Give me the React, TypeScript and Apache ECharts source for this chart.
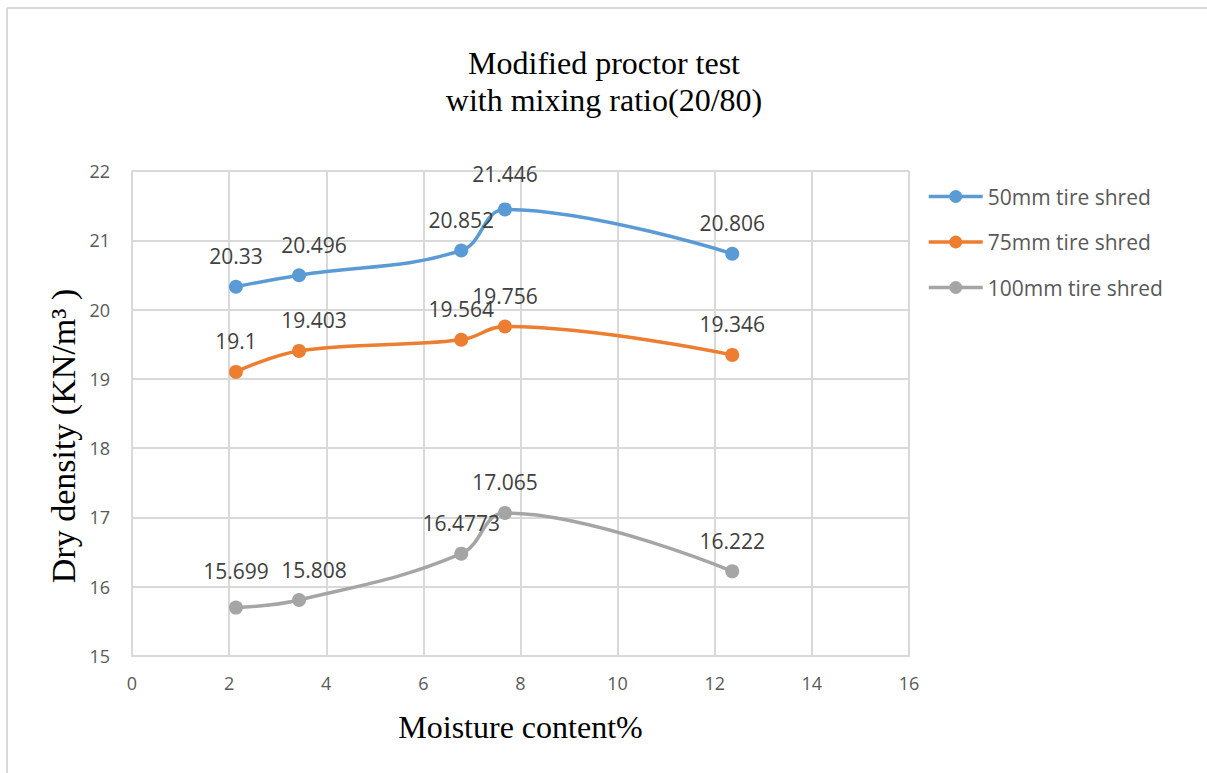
import React, { useEffect, useRef } from "react";
import * as echarts from "echarts";

const moisture50 = [2.14, 3.44, 6.78, 7.68, 12.36];
const density50 = [20.33, 20.496, 20.852, 21.446, 20.806];
const moisture75 = [2.14, 3.44, 6.78, 7.68, 12.36];
const density75 = [19.1, 19.403, 19.564, 19.756, 19.346];
const moisture100 = [2.14, 3.44, 6.78, 7.68, 12.36];
const density100 = [15.699, 15.808, 16.4773, 17.065, 16.222];
const seriesNames = ["50mm tire shred", "75mm tire shred", "100mm tire shred"];
const seriesColors = ["#5B9BD5", "#ED7D31", "#A5A5A5"];
const titleLines = ["Modified proctor test", "with mixing ratio(20/80)"];
const xAxisTitle = "Moisture content%";
const yAxisTitle = "Dry density (KN/m³ )";

const W = 1207;
const H = 773;

function pairs(xs: number[], ys: number[]) {
  return xs.map((x, i) => [x, ys[i]]);
}

export default function App() {
  const ref = useRef<HTMLDivElement>(null);
  useEffect(() => {
    if (!ref.current) return;
    const chart = echarts.init(ref.current, undefined, { renderer: "svg" });
    const serif = "'Liberation Serif', 'Times New Roman', serif";
    const sans = "'Open Sans', 'Noto Sans', sans-serif";
    const datasets = [
      pairs(moisture50, density50),
      pairs(moisture75, density75),
      pairs(moisture100, density100),
    ];
    // label nudges (styling only) to mimic the reference's label placement
    const nudge = (si: number, di: number): number[] => {
      if (di === 1) return [15, 0];
      if (si === 0 && di === 3) return [0, -5];
      if (si === 2 && di === 0) return [0, -6];
      return [0, 0];
    };
    chart.setOption({
      animation: false,
      backgroundColor: "#ffffff",
      title: {
        text: titleLines.join("\n"),
        left: 604,
        top: 44,
        padding: 0,
        textAlign: "center",
        textStyle: {
          fontFamily: serif,
          fontSize: 32,
          fontWeight: "normal",
          color: "#000000",
          lineHeight: 37,
        },
      },
      legend: {
        orient: "vertical",
        left: 927,
        top: 186,
        padding: 0,
        itemWidth: 54,
        itemHeight: 16,
        itemGap: 24.5,
        data: seriesNames,
        lineStyle: { width: 3.5 },
        textStyle: { fontFamily: sans, fontSize: 21, color: "#595959", padding: [0, 0, 0, 0] },
      },
      grid: { left: 132, right: 298, top: 171, bottom: 117, containLabel: false },
      xAxis: {
        type: "value",
        min: 0,
        max: 16,
        interval: 2,
        name: xAxisTitle,
        nameLocation: "middle",
        nameGap: 55,
        nameTextStyle: { fontFamily: serif, fontSize: 32, color: "#000000" },
        axisLine: { show: true, lineStyle: { color: "#D9D9D9", width: 2 } },
        axisTick: { show: false },
        axisLabel: { fontFamily: sans, fontSize: 18, color: "#595959", margin: 18 },
        splitLine: { show: true, lineStyle: { color: "#D9D9D9", width: 2 } },
      },
      yAxis: {
        type: "value",
        min: 15,
        max: 22,
        interval: 1,
        axisLine: { show: true, lineStyle: { color: "#D9D9D9", width: 2 } },
        axisTick: { show: false },
        axisLabel: { fontFamily: sans, fontSize: 18, color: "#595959", margin: 22 },
        splitLine: { show: true, lineStyle: { color: "#D9D9D9", width: 2 } },
      },
      graphic: [
        { type: "line", shape: { x1: 7, y1: 8, x2: 7, y2: H }, style: { stroke: "#D9D9D9", lineWidth: 2 } },
        { type: "line", shape: { x1: 7, y1: 8, x2: W, y2: 8 }, style: { stroke: "#D9D9D9", lineWidth: 2 } },
        {
          type: "text",
          x: 63,
          y: 436,
          rotation: Math.PI / 2,
          style: {
            text: yAxisTitle,
            fontFamily: serif,
            fontSize: 34,
            fill: "#000000",
            textAlign: "center",
            textVerticalAlign: "middle",
          },
        },
      ],
      series: datasets.map((d, si) => ({
        name: seriesNames[si],
        type: "line",
        data: d.map((p, di) => ({ value: p, label: { offset: nudge(si, di) } })),
        smooth: 0.4,
        symbol: "circle",
        symbolSize: 14,
        color: seriesColors[si],
        lineStyle: { width: 3.5, color: seriesColors[si] },
        itemStyle: { color: seriesColors[si] },
        label: {
          show: true,
          position: "top",
          distance: 13,
          fontFamily: sans,
          fontSize: 21,
          color: "#404040",
          formatter: (p: any) => String(p.value[1]),
        },
      })),
    });
    return () => chart.dispose();
  }, []);
  return (
    <div
      ref={ref}
      style={{ position: "fixed", left: 0, top: 0, width: W, height: H, background: "#fff" }}
    />
  );
}
